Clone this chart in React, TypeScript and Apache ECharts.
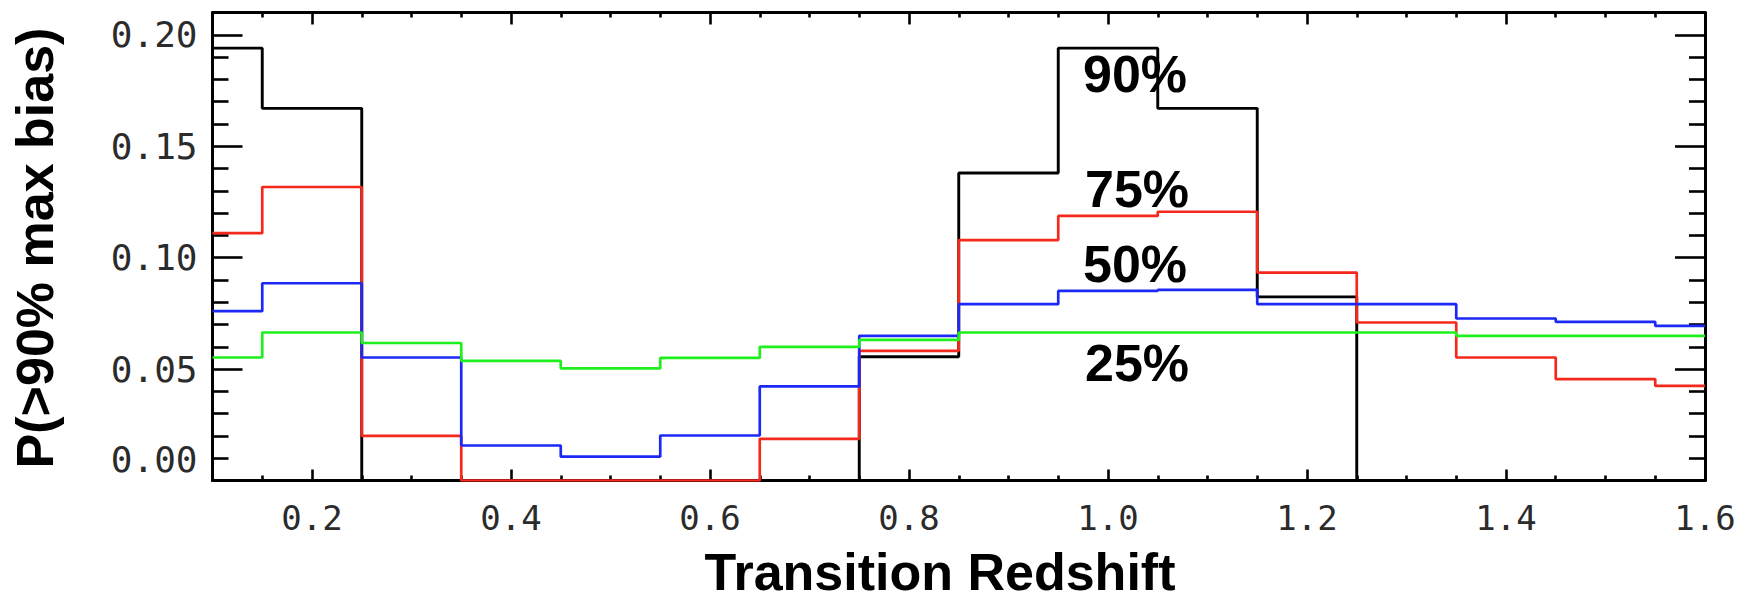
import React, { useEffect, useRef } from 'react';
import * as echarts from 'echarts';

// Bin centres (transition redshift) and bin probabilities
const redshift = [0.1, 0.2, 0.3, 0.4, 0.5, 0.6, 0.7, 0.8, 0.9, 1.0, 1.1, 1.2, 1.3, 1.4, 1.5, 1.6];
const p90 = [0.194, 0.167, 0, 0, 0, 0, 0, 0.0555, 0.138, 0.194, 0.167, 0.0824, 0, 0, 0, 0];
const p75 = [0.111, 0.1317, 0.02, 0, 0, 0, 0.0187, 0.0582, 0.1079, 0.1187, 0.1206, 0.0933, 0.0709, 0.0552, 0.0455, 0.0425];
const p50 = [0.076, 0.0885, 0.0552, 0.0157, 0.0107, 0.0202, 0.0422, 0.0649, 0.0791, 0.0851, 0.0855, 0.0791, 0.0791, 0.0727, 0.0712, 0.0694];
const p25 = [0.0552, 0.0664, 0.0617, 0.0537, 0.0503, 0.055, 0.06, 0.0631, 0.0664, 0.0664, 0.0664, 0.0664, 0.0664, 0.0649, 0.0649, 0.0649];

const seriesNames = ['90%', '75%', '50%', '25%'];
const seriesColors = ['#000000', '#f5281c', '#1c28f5', '#1ef01e'];

const xMajorTicks = [0.2, 0.4, 0.6, 0.8, 1.0, 1.2, 1.4, 1.6];
const yMajorTicks = [0, 0.05, 0.1, 0.15, 0.2];
const xTitle = 'Transition Redshift';
const yTitle = 'P(>90% max bias)';

const X_MIN = 0.1;
const X_MAX = 1.6;
const Y_MIN = 0;
const Y_MAX = 0.21;

function minorTicks(min: number, max: number, step: number, majors: number[]): number[] {
  const out: number[] = [];
  const n = Math.round((max - min) / step);
  for (let i = 1; i < n; i++) {
    const v = Math.round((min + i * step) * 1000) / 1000;
    if (!majors.some((m) => Math.abs(m - v) < 1e-6)) out.push(v);
  }
  return out;
}

const xMinor = minorTicks(X_MIN, X_MAX, 0.05, xMajorTicks);
const yMinor = minorTicks(Y_MIN, Y_MAX, 0.01, yMajorTicks);

const xTickFont = { fontFamily: 'DejaVu Sans Mono', fontSize: 34, color: '#2b2b2b' };
const yTickFont = { fontFamily: 'DejaVu Sans Mono', fontSize: 36, color: '#2b2b2b' };

const titleFont = "bold 52px 'Liberation Sans', Arial, sans-serif";

export default function App() {
  const ref = useRef<HTMLDivElement>(null);

  useEffect(() => {
    if (!ref.current) return;
    const chart = echarts.init(ref.current, null, { renderer: 'svg' });

    const axisLine = { show: true, onZero: false, lineStyle: { color: '#000', width: 3 } };
    const noLine = { show: false, onZero: false };
    const tickStyle = { color: '#000', width: 2.6 };

    const xBase = { type: 'value', min: X_MIN, max: X_MAX, splitLine: { show: false } };
    const yBase = { type: 'value', min: Y_MIN, max: Y_MAX, splitLine: { show: false } };

    const xAxes = [
      {
        ...xBase,
        position: 'bottom',
        axisLine,
        axisTick: { show: true, inside: true, length: 11, customValues: xMajorTicks, lineStyle: tickStyle },
        axisLabel: {
          show: true,
          customValues: xMajorTicks,
          margin: 20,
          formatter: (v: number) => v.toFixed(1),
          ...xTickFont,
        },
      },
      {
        ...xBase,
        position: 'bottom',
        axisLine: noLine,
        axisTick: { show: true, inside: true, length: 5, customValues: xMinor, lineStyle: tickStyle },
        axisLabel: { show: false },
      },
      {
        ...xBase,
        position: 'top',
        axisLine,
        axisTick: { show: true, inside: true, length: 12, customValues: xMajorTicks, lineStyle: tickStyle },
        axisLabel: { show: false },
      },
      {
        ...xBase,
        position: 'top',
        axisLine: noLine,
        axisTick: { show: true, inside: true, length: 5, customValues: xMinor, lineStyle: tickStyle },
        axisLabel: { show: false },
      },
    ];

    const yAxes = [
      {
        ...yBase,
        position: 'left',
        axisLine,
        axisTick: { show: true, inside: true, length: 30, customValues: yMajorTicks, lineStyle: tickStyle },
        axisLabel: {
          show: true,
          customValues: yMajorTicks,
          margin: 15,
          formatter: (v: number) => (v === 0 ? '{lo|0.00}' : v.toFixed(2)),
          rich: { lo: { ...yTickFont, padding: [0, 0, 42, 0] } },
          ...yTickFont,
        },
      },
      {
        ...yBase,
        position: 'left',
        axisLine: noLine,
        axisTick: { show: true, inside: true, length: 16, customValues: yMinor, lineStyle: tickStyle },
        axisLabel: { show: false },
      },
      {
        ...yBase,
        position: 'right',
        axisLine,
        axisTick: { show: true, inside: true, length: 30, customValues: yMajorTicks, lineStyle: tickStyle },
        axisLabel: { show: false },
      },
      {
        ...yBase,
        position: 'right',
        axisLine: noLine,
        axisTick: { show: true, inside: true, length: 16, customValues: yMinor, lineStyle: tickStyle },
        axisLabel: { show: false },
      },
    ];

    const allSeries = [p90, p75, p50, p25].map((vals, k) => ({
      name: seriesNames[k],
      type: 'line',
      step: 'middle',
      xAxisIndex: 0,
      yAxisIndex: 0,
      symbol: 'none',
      showSymbol: false,
      clip: true,
      lineStyle: { color: seriesColors[k], width: k === 0 ? 2.9 : 2.7 },
      itemStyle: { color: seriesColors[k] },
      z: 3 + k,
      data: redshift.map((z, i) => [z, vals[i]]),
    }));

    const annotation = (text: string, x: number, y: number) => ({
      type: 'text',
      x,
      y,
      z: 100,
      style: {
        text,
        font: titleFont,
        fill: '#000',
        textAlign: 'left',
        textVerticalAlign: 'middle',
      },
    });

    chart.setOption({
      animation: false,
      backgroundColor: '#ffffff',
      grid: { left: 212.5, top: 12.5, width: 1492.5, height: 468, containLabel: false },
      xAxis: xAxes,
      yAxis: yAxes,
      series: allSeries,
      graphic: [
        annotation(seriesNames[0], 1083, 74),
        annotation(seriesNames[1], 1085, 189),
        annotation(seriesNames[2], 1083, 264),
        annotation(seriesNames[3], 1085, 363),
        {
          type: 'text',
          x: 940,
          y: 572,
          style: {
            text: xTitle,
            font: titleFont,
            fill: '#000',
            textAlign: 'center',
            textVerticalAlign: 'middle',
          },
        },
        {
          type: 'text',
          x: 35,
          y: 248,
          rotation: Math.PI / 2,
          style: {
            text: yTitle,
            font: titleFont,
            fill: '#000',
            textAlign: 'center',
            textVerticalAlign: 'middle',
          },
        },
      ],
    });

    return () => {
      chart.dispose();
    };
  }, []);

  return (
    <div
      ref={ref}
      style={{ position: 'absolute', left: 0, top: 0, width: 1745, height: 605, background: '#fff' }}
    />
  );
}
